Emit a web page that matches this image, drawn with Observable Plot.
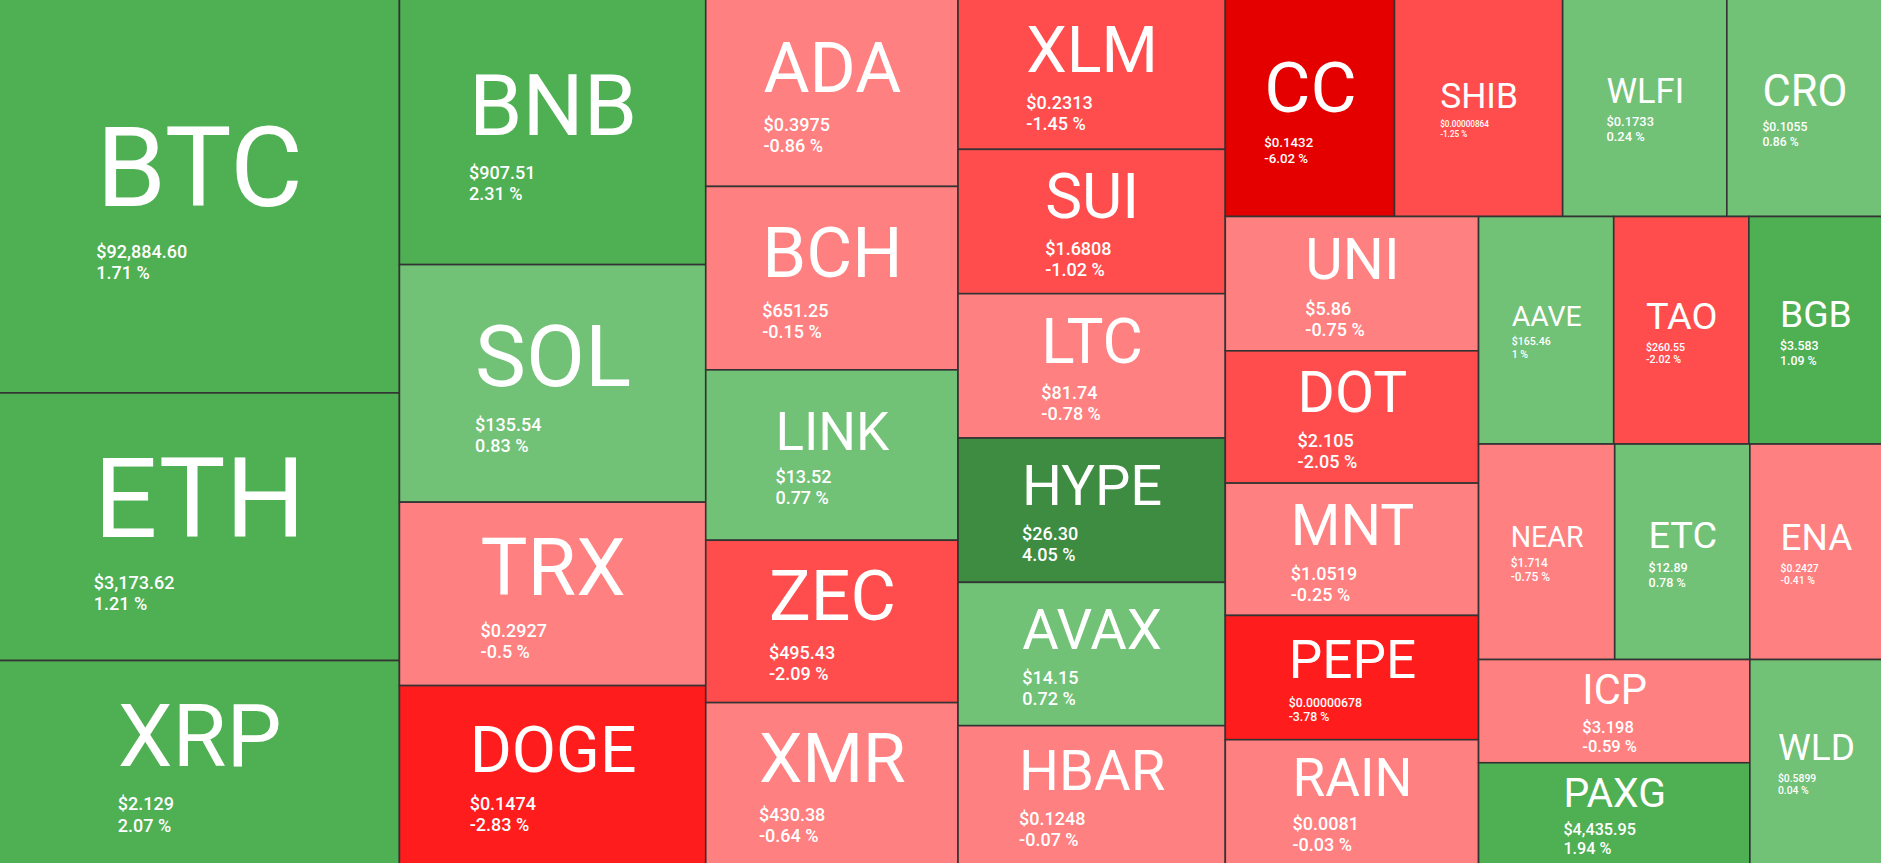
<!DOCTYPE html>
<html>
<head>
<meta charset="utf-8">
<script src="https://cdn.jsdelivr.net/npm/d3@7"></script>
<script src="https://cdn.jsdelivr.net/npm/@observablehq/plot@0.6"></script>
<style>
  html, body { margin: 0; padding: 0; background: #ffffff; overflow: hidden; }
  #chart svg { display: block; }
</style>
</head>
<body>
<div id="chart"></div>
<script>
// Coins, in descending order of relative size
const symbols = ["BTC","ETH","XRP","BNB","SOL","TRX","DOGE","ADA","BCH","LINK","ZEC","XMR",
  "XLM","SUI","LTC","HYPE","AVAX","HBAR","CC","SHIB","WLFI","CRO","UNI","DOT","MNT","PEPE","RAIN",
  "AAVE","TAO","BGB","NEAR","ETC","ENA","ICP","PAXG","WLD"];
// Relative tile sizes (arbitrary units, estimated from tile areas)
const weights = [157200,106800,81200,81090,72522,55998,54468,47124,46116,42840,40824,40572,
  40050,38448,38448,38448,38181,36846,36673,36456,35588,33635,33902,33396,33396,31372,31372,
  30645,30645,30191,29240,29025,28380,27913,27371,26928];
const prices = ["$92,884.60","$3,173.62","$2.129","$907.51","$135.54","$0.2927","$0.1474","$0.3975","$651.25","$13.52","$495.43","$430.38",
  "$0.2313","$1.6808","$81.74","$26.30","$14.15","$0.1248","$0.1432","$0.00000864","$0.1733","$0.1055","$5.86","$2.105","$1.0519","$0.00000678","$0.0081",
  "$165.46","$260.55","$3.583","$1.714","$12.89","$0.2427","$3.198","$4,435.95","$0.5899"];
const changes = [1.71,1.21,2.07,2.31,0.83,-0.5,-2.83,-0.86,-0.15,0.77,-2.09,-0.64,
  -1.45,-1.02,-0.78,4.05,0.72,-0.07,-6.02,-1.25,0.24,0.86,-0.75,-2.05,-0.25,-3.78,-0.03,
  1,-2.02,1.09,-0.75,0.78,-0.41,-0.59,1.94,0.04];

const colorBreaks = [-5, -2.5, -1, 0, 1.05, 3];
const colorRange = ["#e50000", "#ff1c1c", "#ff4d4d", "#ff8080", "#71c177", "#4faf53", "#3d8c41"];

const W = 1881, H = 863;

const root = d3.hierarchy({children: symbols.map((s, i) => ({
  symbol: s, weight: weights[i], price: prices[i], change: changes[i]
}))}).sum(d => d.weight || 0);
// lay out 1px beyond each edge so the outer tile borders fall outside the view
d3.treemap().tile(d3.treemapSquarify).size([W + 2, H + 2]).round(false)(root);

const ctx = document.createElement("canvas").getContext("2d");
function textWidth(t, weight) {
  ctx.font = `${weight} 100px Roboto`;
  return ctx.measureText(t).width / 100;
}

const cells = root.leaves().map(n => {
  const d = n.data;
  const w = n.x1 - n.x0, h = n.y1 - n.y0;
  const pctText = `${d.change} %`;
  const lw = Math.max(textWidth(d.price, 500), textWidth(pctText, 500));
  const p = Math.min(18, 0.29 * w / lw, 0.16 * h);
  const s = Math.min(0.84 * w / d.symbol.length, 0.43 * h, (0.82 * h - 2.2 * p) / 1.16);
  const symW = textWidth(d.symbol, 400) * s;
  const blockW = Math.max(symW, lw * p);
  const cx = (n.x0 + n.x1) / 2, cy = (n.y0 + n.y1) / 2;
  const tx = cx - blockW / 2;
  const ys = cy + 0.26 * s - 1.1 * p;
  const yp = ys + 0.32 * s + 0.93 * p;
  const yq = yp + 1.17 * p;
  return {...d, pctText, x0: n.x0, x1: n.x1, y0: n.y0, y1: n.y1, s, p, tx, ys, yp, yq};
});

const chart = Plot.plot({
  width: W,
  height: H,
  margin: 0,
  x: {domain: [1, W + 1], range: [0, W], axis: null},
  y: {domain: [1, H + 1], range: [0, H], axis: null},
  color: {type: "threshold", domain: colorBreaks, range: colorRange},
  style: {fontFamily: "Roboto, 'Noto Sans', sans-serif", background: "#ffffff"},
  marks: [
    Plot.rect(cells, {x1: "x0", x2: "x1", y1: "y0", y2: "y1", fill: "change", stroke: "#333333", strokeWidth: 1.6}),
    Plot.text(cells, {x: "tx", y: "ys", text: "symbol", fontSize: d => d.s, fill: "#ffffff",
      textAnchor: "start", lineAnchor: "bottom", fontWeight: 400}),
    Plot.text(cells, {x: "tx", y: "yp", text: "price", fontSize: d => d.p, fill: "#ffffff",
      textAnchor: "start", lineAnchor: "bottom", fontWeight: 500}),
    Plot.text(cells, {x: "tx", y: "yq", text: "pctText", fontSize: d => d.p, fill: "#ffffff",
      textAnchor: "start", lineAnchor: "bottom", fontWeight: 500})
  ]
});
document.getElementById("chart").appendChild(chart);
</script>
</body>
</html>
